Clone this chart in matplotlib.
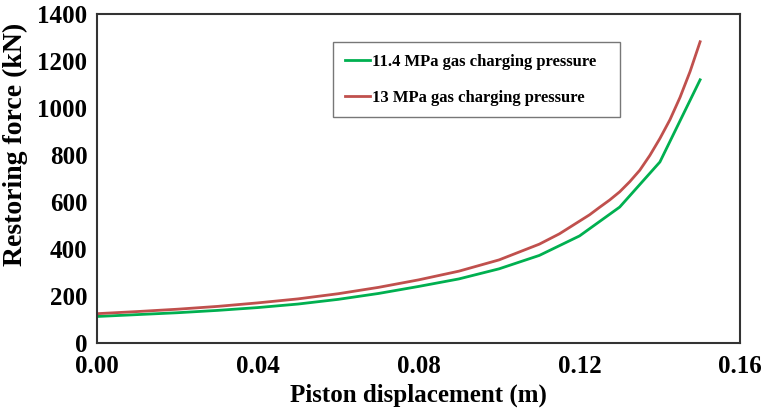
import matplotlib
matplotlib.use("Agg")
import matplotlib.pyplot as plt

# piston displacement (m) and restoring force (kN)
disp_114 = [0.00, 0.01, 0.02, 0.03, 0.04, 0.05, 0.06, 0.07,
            0.08, 0.09, 0.10, 0.11, 0.12, 0.13, 0.14, 0.15]
force_114 = [112, 120, 128, 138, 150, 165, 185, 210,
             240, 272, 315, 372, 455, 578, 770, 1120]

disp_13 = [0.00, 0.01, 0.02, 0.03, 0.04, 0.05, 0.06, 0.07, 0.08, 0.09,
           0.10, 0.11, 0.115, 0.12, 0.1225, 0.125, 0.1275, 0.13, 0.1325,
           0.135, 0.1375, 0.14, 0.1425, 0.145, 0.1475, 0.15]
force_13 = [124, 133, 143, 155, 170, 187, 209, 236, 268, 305,
            353, 420, 464, 518, 545, 577, 608, 643, 686,
            735, 798, 870, 950, 1045, 1155, 1282]

labels = ["11.4 MPa gas charging pressure", "13 MPa gas charging pressure"]
x_ticks = [0.00, 0.04, 0.08, 0.12, 0.16]
y_ticks = [0, 200, 400, 600, 800, 1000, 1200, 1400]

plt.rcParams['font.family'] = ['Liberation Serif', 'DejaVu Serif']
plt.rcParams['font.weight'] = 'bold'

fig = plt.figure(figsize=(7.64, 4.13), dpi=100)
ax = fig.add_axes([0.127, 0.17, 0.842, 0.796])

ax.plot(disp_114, force_114, color="#00b050", lw=2, label=labels[0])
ax.plot(disp_13, force_13, color="#c0504d", lw=2, label=labels[1])

ax.set_xlim(0, 0.16)
ax.set_ylim(0, 1400)
ax.set_xticks(x_ticks)
ax.set_xticklabels([f"{t:.2f}" for t in x_ticks])
ax.set_yticks(y_ticks)
ax.tick_params(length=0, labelsize=18, pad=7)
ax.tick_params(axis="x", pad=9)
for s in ax.spines.values():
    s.set_color("#333333")
    s.set_linewidth(1.5)

ax.set_xlabel("Piston displacement (m)", fontsize=18, fontweight="bold", labelpad=4)
ax.set_ylabel("Restoring force (kN)", fontsize=20, fontweight="bold")
# the label sits higher than the axis centre in the original
ax.yaxis.set_label_coords(-0.108, 0.605)

leg = ax.legend(loc="upper left", bbox_to_anchor=(0.367, 0.915, 0.446, 0.0),
                mode="expand", borderaxespad=0, fancybox=False,
                edgecolor="#777777", fontsize=12, handlelength=1.5,
                handletextpad=0.15, labelspacing=1.2, borderpad=0.7,
                framealpha=1)
leg.get_frame().set_linewidth(1)

plt.savefig("out.png", dpi=100)
